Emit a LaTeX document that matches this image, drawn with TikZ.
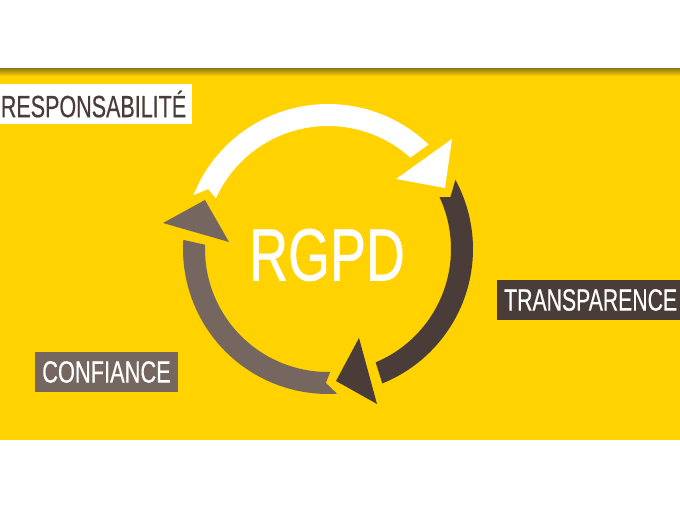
\documentclass[tikz,border=0pt]{standalone}
\usepackage{fontspec}
\setmainfont{Liberation Sans}
\newfontfamily\labelfont{Liberation Sans}[FakeBold=0.5]
\newfontfamily\titlefont{Liberation Sans}[FakeBold=1]
\usetikzlibrary{positioning}
\usetikzlibrary{calc}
\definecolor{rgpdyellow}{HTML}{FFD200}
\definecolor{rgpddark}{HTML}{4A3C39}
\definecolor{rgpdgray}{HTML}{75675F}
\definecolor{rgpdshadow}{HTML}{9A8210}
\newcommand{\narrow}[2][0.70]{\scalebox{#1}[1]{#2}}
\tikzset{
    labelbox/.style = {rectangle, inner sep=0pt, minimum height=0.8cm, font=\labelfont\fontsize{17.5pt}{20pt}\selectfont},
    labelw/.style = {labelbox, fill=white, text=rgpddark},
    labeld/.style = {labelbox, fill=rgpddark, text=white},
    labelg/.style = {labelbox, fill=rgpdgray, text=white},
    title/.style = {inner sep=0pt, text=white, font=\titlefont\fontsize{42pt}{46pt}\selectfont},
}
\begin{document}
\begin{tikzpicture}[x=0.02cm,y=0.02cm]
\useasboundingbox (0,0) rectangle (680,510);
\fill[white] (0,0) rectangle (680,510);
\fill[rgpdyellow] (0,70) rectangle (680,440);
\shade[top color=rgpdshadow, bottom color=rgpdyellow] (0,434) rectangle (680,441);
%
\coordinate (c) at (328,261);
% white arrow
\fill[white] ($(c)+(158.2:145)$) arc[start angle=158.2,end angle=46.1,radius=145]
    -- ($(c)+(48:123)$) arc[start angle=48,end angle=155.7,radius=123]
    -- ($(c)+(153.4:134)$) -- cycle;
\fill[white] (452,371) -- (396,331) -- (445,322) -- cycle;
% dark arrow
\fill[rgpddark] ($(c)+(28.5:145)$) arc[start angle=28.5,end angle=-68,radius=145]
    -- ($(c)+(-67.2:123)$) arc[start angle=-67.2,end angle=25,radius=123]
    -- ($(c)+(23:133)$) -- cycle;
\fill[rgpddark] (359,172) -- (336,129) -- (377,106) -- cycle;
% gray arrow
\fill[rgpdgray] ($(c)+(176.4:145)$) arc[start angle=176.4,end angle=273.6,radius=145]
    -- ($(c)+(269.1:134)$) -- ($(c)+(271:123)$) arc[start angle=271,end angle=178,radius=123]
    -- cycle;
\fill[rgpdgray] (205,310) -- (163,287) -- (229,268) -- cycle;
%
\node[title] at (327,255) (rgpd) {\narrow[0.73]{RGPD}};
\node[labelw, minimum width=3.84cm] at (96,406) (resp) {\hspace{-2.8pt}\narrow{RESPONSABILITÉ}};
\node[labeld, minimum width=3.66cm] at (588.5,210) (trans) {\hspace{2.5pt}\narrow[0.69]{TRANSPARENCE}};
\node[labelg, minimum width=2.86cm] at (106.5,138) (conf) {\narrow[0.71]{CONFIANCE}};
\end{tikzpicture}
\end{document}
